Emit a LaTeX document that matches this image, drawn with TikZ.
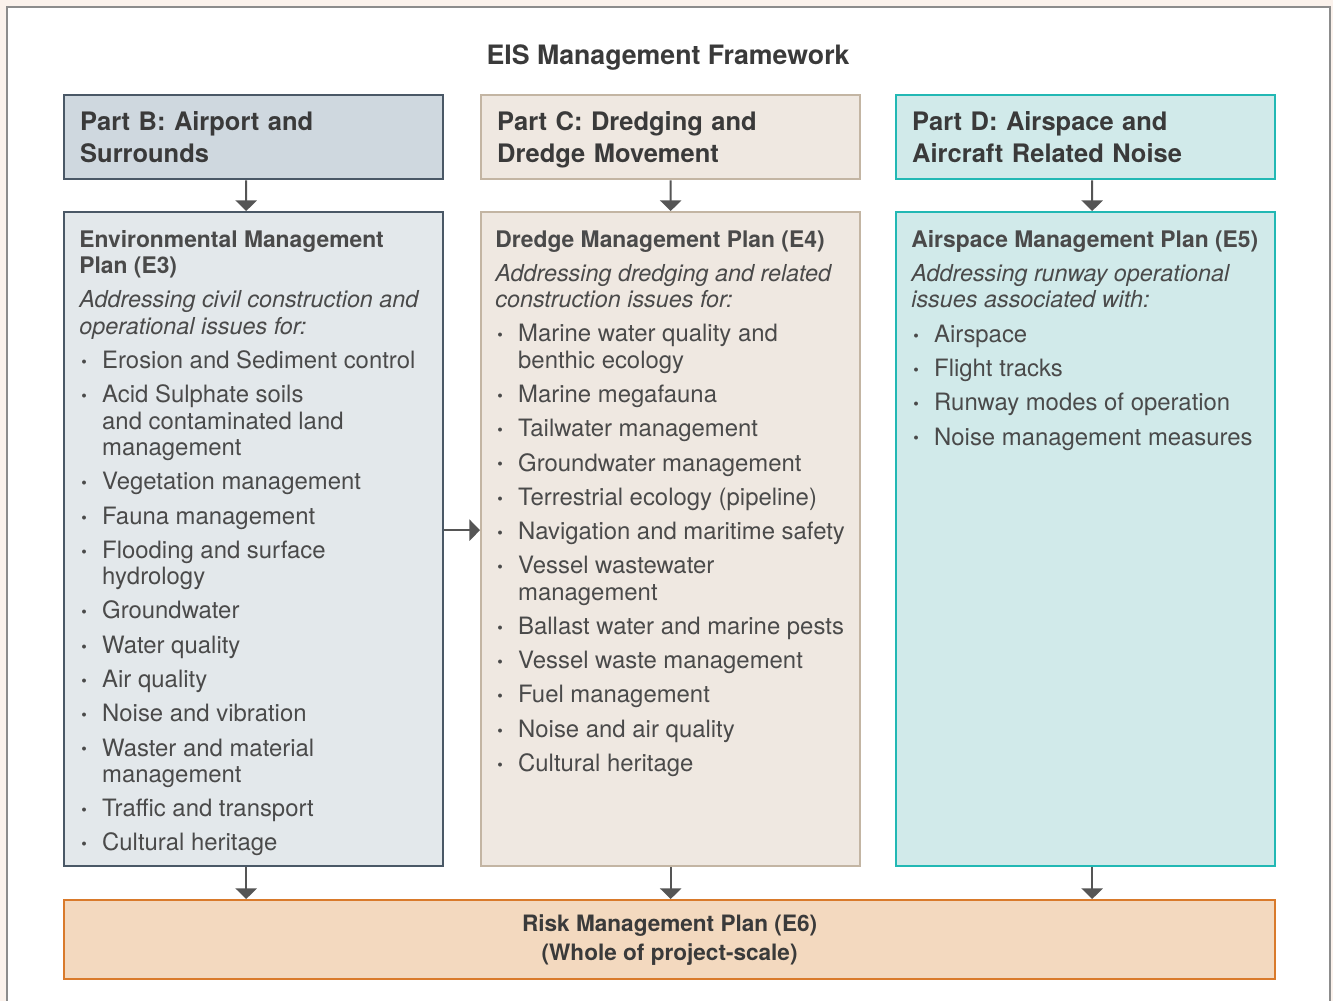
\documentclass[tikz,border=0pt]{standalone}
\usepackage{fontspec}
\setmainfont{TeX Gyre Heros}
\usetikzlibrary{arrows.meta}

\definecolor{bgcream}{HTML}{FBF2EC}
\definecolor{framegray}{HTML}{8C8C8C}
\definecolor{inkdark}{HTML}{3A3A3A}
\definecolor{inkbody}{HTML}{4A4A4A}
\definecolor{arrowgray}{HTML}{555555}
\definecolor{slateline}{HTML}{4A5866}
\definecolor{slatehead}{HTML}{CFD8DF}
\definecolor{slatebody}{HTML}{E3E8EB}
\definecolor{sandline}{HTML}{C3B5A3}
\definecolor{sandfill}{HTML}{EFE8E1}
\definecolor{tealline}{HTML}{22B8B4}
\definecolor{tealfill}{HTML}{D1EAEA}
\definecolor{riskline}{HTML}{D97A2B}
\definecolor{riskfill}{HTML}{F3D9BF}

\newcommand{\bul}{\makebox[13pt][l]{\hspace{1.2pt}\raisebox{0.6pt}{\small\textbullet}}}
\newcommand{\ind}{\hspace*{13pt}}
\newcommand{\gap}{4.5pt}
\newcommand{\plantitle}[1]{{\fontsize{13}{15}\selectfont\bfseries #1}}
\newcommand{\plannote}[1]{{\fontsize{13.3}{15}\selectfont\itshape #1}}

\begin{document}
\begin{tikzpicture}[x=0.02cm, y=-0.02cm,
  parthead/.style 2 args={draw=#1, fill=#2, line width=1.4pt, anchor=north west,
    minimum width=7.58cm, minimum height=1.68cm, text width=6.94cm, inner xsep=0.32cm,
    inner ysep=0pt, align=left, text=inkdark,
    font=\fontsize{14.5}{18}\selectfont\bfseries},
  planbox/.style 2 args={draw=#1, fill=#2, line width=1.4pt, anchor=north west,
    minimum width=7.58cm, minimum height=13.08cm, inner sep=0pt},
  plantext/.style={anchor=north west, inner sep=0pt, align=left, text=inkbody,
    font=\fontsize{13.6}{15}\selectfont},
  link/.style={draw=arrowgray, line width=1.1pt, -{Triangle[width=12pt,length=6pt]}}]

\useasboundingbox (0,0) rectangle (1333,1001);

% BACKGROUND
\fill [bgcream] (0,0) rectangle (1333,1001);
\draw [framegray, fill=white, line width=0.8pt] (7,7) rectangle (1330,1030);

% TITLE
\node [text=inkdark, font=\fontsize{15.2}{17}\selectfont\bfseries] (title) at (668,58) {EIS Management Framework};

% PART HEADERS
\node [parthead={slateline}{slatehead}] (partb) at (63,94) {Part B: Airport and\\Surrounds};
\node [parthead={sandline}{sandfill}] (partc) at (480,94) {Part C: Dredging and\\\smash{Dredge Movement}};
\node [parthead={tealline}{tealfill}] (partd) at (895,94) {Part D: Airspace and\\Aircraft Related Noise};

% PLAN BOXES
\node [planbox={slateline}{slatebody}] (emp) at (63,211) {};
\node [planbox={sandline}{sandfill}] (dmp) at (480,211) {};
\node [planbox={tealline}{tealfill}] (amp) at (895,211) {};

% RISK
\node [draw=riskline, fill=riskfill, line width=1.4pt, anchor=north west,
  minimum width=24.22cm, minimum height=1.58cm, align=center, text=inkdark,
  font=\fontsize{12.85}{16.5}\selectfont\bfseries] (risk) at (63,899)
  {Risk Management Plan (E6)\\(Whole of project-scale)};

% PLAN TEXTS
\node [plantext] (emplist) at (79,230) {%
\plantitle{Environmental Management}\\
\plantitle{Plan (E3)}\\[\gap]
\plannote{Addressing civil construction and}\\
\plannote{operational issues for:}\\[\gap]
\bul Erosion and Sediment control\\[\gap]
\bul Acid Sulphate soils\\
\ind and contaminated land\\
\ind management\\[\gap]
\bul Vegetation management\\[\gap]
\bul Fauna management\\[\gap]
\bul Flooding and surface\\
\ind hydrology\\[\gap]
\bul Groundwater\\[\gap]
\bul Water quality\\[\gap]
\bul Air quality\\[\gap]
\bul Noise and vibration\\[\gap]
\bul Waster and material\\
\ind management\\[\gap]
\bul Traffic and transport\\[\gap]
\bul Cultural heritage};

\node [plantext] (dmplist) at (495,230) {%
\plantitle{Dredge Management Plan (E4)}\\[\gap]
\plannote{Addressing dredging and related}\\
\plannote{construction issues for:}\\[\gap]
\bul Marine water quality and\\
\ind benthic ecology\\[\gap]
\bul Marine megafauna\\[\gap]
\bul Tailwater management\\[\gap]
\bul Groundwater management\\[\gap]
\bul Terrestrial ecology (pipeline)\\[\gap]
\bul Navigation and maritime safety\\[\gap]
\bul Vessel wastewater\\
\ind management\\[\gap]
\bul Ballast water and marine pests\\[\gap]
\bul Vessel waste management\\[\gap]
\bul Fuel management\\[\gap]
\bul Noise and air quality\\[\gap]
\bul Cultural heritage};

\node [plantext] (amplist) at (911,230) {%
\plantitle{Airspace Management Plan (E5)}\\[\gap]
\plannote{Addressing runway operational}\\
\plannote{issues associated with:}\\[\gap]
\bul Airspace\\[\gap]
\bul Flight tracks\\[\gap]
\bul Runway modes of operation\\[\gap]
\bul Noise management measures};

% ARROWS
\draw [link] ([xshift=-0.15cm]partb.south) -- ([xshift=-0.15cm]emp.north);
\draw [link] (partc.south) -- (dmp.north);
\draw [link] ([xshift=0.13cm]partd.south) -- ([xshift=0.13cm]amp.north);
\draw [link] ([yshift=0.18cm]emp.east) -- ([yshift=0.18cm]dmp.west);
\draw [link] ([xshift=-0.15cm]emp.south) -- ([xshift=-0.15cm]emp.south |- risk.north);
\draw [link] (dmp.south) -- (dmp.south |- risk.north);
\draw [link] ([xshift=0.13cm]amp.south) -- ([xshift=0.13cm]amp.south |- risk.north);

\end{tikzpicture}
\end{document}
